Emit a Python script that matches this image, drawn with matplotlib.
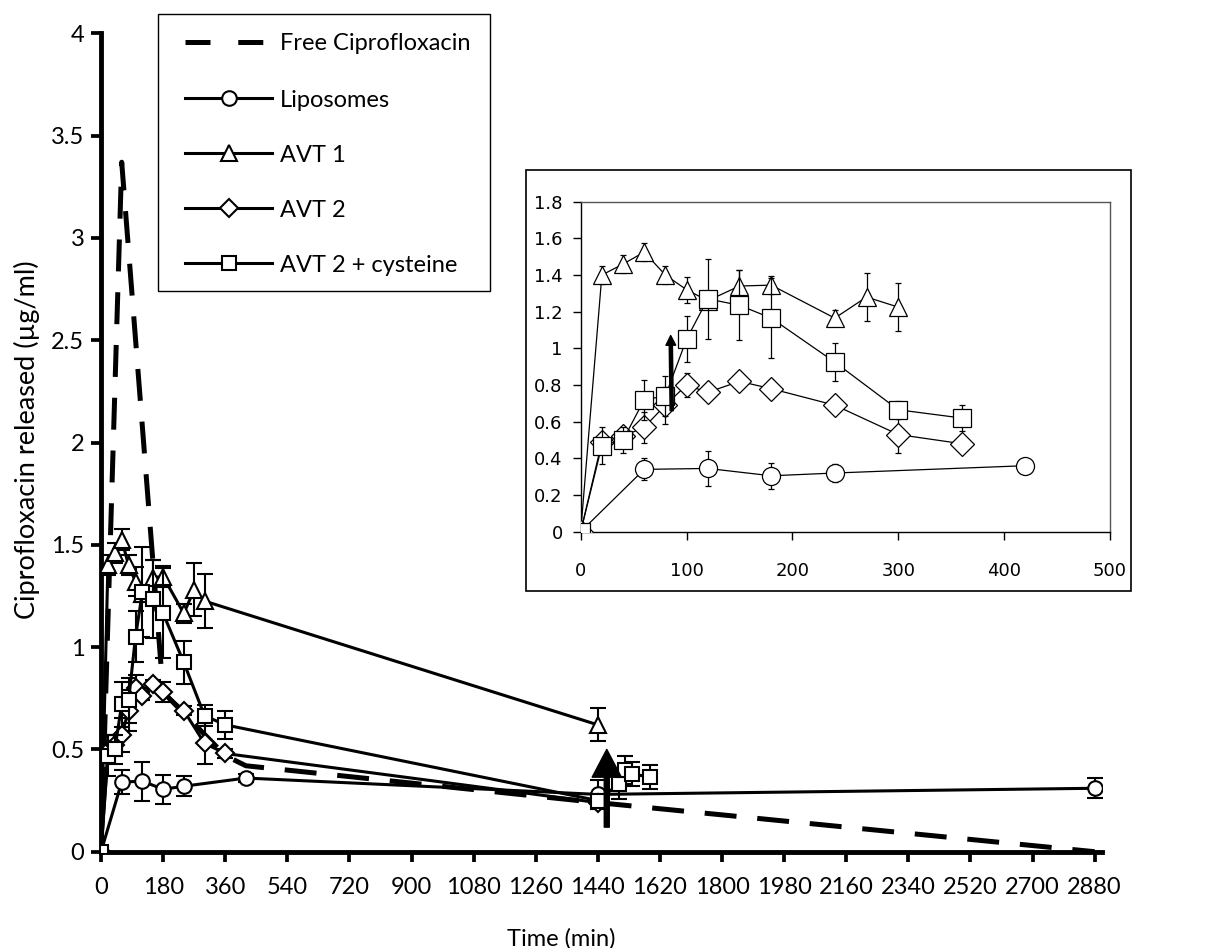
import matplotlib
matplotlib.use("Agg")
import matplotlib.pyplot as plt
from matplotlib.patches import Rectangle
from matplotlib.lines import Line2D

W, H = 1211, 948
plt.rcParams['lines.scale_dashes'] = False
MAIN_FONT = ['Lato', 'DejaVu Sans']
INSET_FONT = ['DejaVu Sans']

# ---------------- data ----------------
free_t = [0, 60, 180, 360, 420, 1440, 2880]
free_c = [0, 3.37, 0.78, 0.47, 0.42, 0.24, 0.0]

lipo_t = [0, 60, 120, 180, 240, 420, 1440, 2880]
lipo_c = [0, 0.34, 0.345, 0.305, 0.32, 0.36, 0.28, 0.31]
lipo_e = [0, 0.06, 0.095, 0.07, 0.05, 0.02, 0.07, 0.048]

avt1_t = [0, 20, 40, 60, 80, 100, 120, 150, 180, 240, 270, 300, 1440]
avt1_c = [0, 1.40, 1.46, 1.525, 1.40, 1.32, 1.26, 1.34, 1.345, 1.165, 1.28, 1.225, 0.62]
avt1_e = [0, 0.05, 0.05, 0.05, 0.05, 0.07, 0.04, 0.086, 0.05, 0.045, 0.13, 0.13, 0.08]

avt2_t = [0, 20, 40, 60, 80, 100, 120, 150, 180, 240, 300, 360, 1440]
avt2_c = [0, 0.49, 0.52, 0.57, 0.69, 0.80, 0.76, 0.82, 0.78, 0.69, 0.53, 0.48, 0.24]
avt2_e = [0, 0.05, 0.05, 0.085, 0.10, 0.065, 0.02, 0.02, 0.05, 0.02, 0.10, 0.02, 0.03]

cys_t = [0, 20, 40, 60, 80, 100, 120, 150, 180, 240, 300, 360, 1440, 1500, 1520, 1540, 1590]
cys_c = [0, 0.47, 0.50, 0.72, 0.74, 1.05, 1.27, 1.235, 1.165, 0.925, 0.665, 0.62,
         0.25, 0.33, 0.40, 0.38, 0.365]
cys_e = [0, 0.10, 0.07, 0.11, 0.11, 0.125, 0.22, 0.19, 0.22, 0.105, 0.05, 0.07,
         0.03, 0.07, 0.07, 0.06, 0.06]

main_xticks = list(range(0, 2881, 180))
main_yticks = [0, 0.5, 1, 1.5, 2, 2.5, 3, 3.5, 4]
inset_xticks = [0, 100, 200, 300, 400, 500]
inset_yticks = [0, 0.2, 0.4, 0.6, 0.8, 1, 1.2, 1.4, 1.6, 1.8]

labels = ['Free Ciprofloxacin', 'Liposomes', 'AVT 1', 'AVT 2', 'AVT 2 + cysteine']
markers = [None, 'o', '^', 'D', 's']
msize_main = [0, 10.5, 11, 9.5, 10]
msize_inset = [0, 13, 13, 12, 12.5]


def fmt(v):
    return ('%.1f' % v).rstrip('0').rstrip('.')


def fx(px):
    return px / W


def fy(py):
    return 1 - py / H


fig = plt.figure(figsize=(W / 100, H / 100), dpi=100)

# ---------------- main axes ----------------
x0, y0 = 101, 851.7
pxmin = 0.345
XMAX = 2900
ax = fig.add_axes([fx(x0), fy(y0), XMAX * pxmin / W, (y0 - 33.3) / H])
ax.set_xlim(0, XMAX)
ax.set_ylim(0, 4)

ax.plot(free_t, free_c, color='black', lw=3.6, dashes=(23, 15), zorder=2,
        dash_capstyle='butt')

series = [(lipo_t, lipo_c, lipo_e), (avt1_t, avt1_c, avt1_e),
          (avt2_t, avt2_c, avt2_e), (cys_t, cys_c, cys_e)]
for i, (t, c, e) in enumerate(series):
    ax.errorbar(t, c, yerr=e, color='black', lw=2.2, marker=markers[i + 1],
                ms=msize_main[i + 1], mfc='white', mec='black', mew=1.5,
                elinewidth=1.5, capsize=5.5, capthick=1.5, zorder=3 + i)

ax.annotate('', xy=(1466, 0.50), xytext=(1466, 0.12),
            arrowprops=dict(width=3.6, headwidth=21, headlength=20,
                            color='black', shrink=0),
            zorder=10)

for s in ['top', 'right']:
    ax.spines[s].set_visible(False)
for s in ['left', 'bottom']:
    ax.spines[s].set_linewidth(3.5)
ax.set_xticks(main_xticks)
ax.set_xticklabels([str(v) for v in main_xticks])
ax.set_yticks(main_yticks)
ax.set_yticklabels([fmt(v) for v in main_yticks])
ax.tick_params(axis='both', direction='out', length=7, width=2.7,
               labelsize=17)
ax.tick_params(axis='x', pad=11)
ax.tick_params(axis='y', pad=5)
for lab in ax.get_xticklabels() + ax.get_yticklabels():
    lab.set_family(MAIN_FONT)

fig.text(fx(507), fy(946), 'Time (min)', ha='left', va='baseline',
         fontsize=17, family=MAIN_FONT)
fig.text(fx(27), fy(440), 'Ciprofloxacin released (µg/ml)', ha='center',
         va='center', rotation=90, fontsize=19.5, family=MAIN_FONT)

# ---------------- legend (drawn by hand) ----------------
leg_box = Rectangle((fx(158), fy(291)), (490 - 158) / W, (291 - 14) / H,
                    transform=fig.transFigure, facecolor='white',
                    edgecolor='black', lw=1.0, zorder=20)
fig.add_artist(leg_box)
rows = [41.7, 98.3, 153.3, 208.3, 263.3]
for i, (lab, yr) in enumerate(zip(labels, rows)):
    if i == 0:
        fig.add_artist(Line2D([fx(185), fx(272)], [fy(yr), fy(yr)],
                              transform=fig.transFigure, color='black',
                              lw=3.6, dashes=(18, 20), zorder=21))
    else:
        fig.add_artist(Line2D([fx(185), fx(272)], [fy(yr), fy(yr)],
                              transform=fig.transFigure, color='black',
                              lw=2.2, zorder=21))
        fig.add_artist(Line2D([fx(228.5)], [fy(yr)], transform=fig.transFigure,
                              color='black', lw=0, marker=markers[i],
                              ms=msize_main[i], mfc='white', mec='black',
                              mew=1.5, zorder=22))
    fig.text(fx(280), fy(yr + 8.5), lab, ha='left', va='baseline',
             fontsize=17, family=MAIN_FONT, zorder=22)

# ---------------- inset ----------------
frame = Rectangle((fx(526), fy(591)), (1131 - 526) / W, (591 - 170) / H,
                  transform=fig.transFigure, facecolor='white',
                  edgecolor='black', lw=1.2, zorder=5)
fig.add_artist(frame)

ix0, iy0 = 580.7, 531.7
axi = fig.add_axes([fx(ix0), fy(iy0), (1110 - ix0) / W, (iy0 - 201.7) / H])
axi.set_zorder(6)
axi.set_xlim(0, 500)
axi.set_ylim(0, 1.8)
for i, (t, c, e) in enumerate(series):
    n = len([v for v in t if v <= 500])
    axi.errorbar(t[:n], c[:n], yerr=e[:n], color='black', lw=0.9,
                 marker=markers[i + 1], ms=msize_inset[i + 1], mfc='white',
                 mec='black', mew=0.9, elinewidth=0.9, capsize=2.5,
                 capthick=0.9, zorder=3 + i)
axi.annotate('', xy=(85, 1.07), xytext=(86, 0.66),
             arrowprops=dict(width=2.3, headwidth=7, headlength=7,
                             color='black', shrink=0), zorder=10)
axi.spines['left'].set_color('black')
axi.spines['bottom'].set_color('black')
axi.spines['top'].set_color('#555555')
axi.spines['right'].set_color('#555555')
for s in axi.spines.values():
    s.set_linewidth(1.0)
axi.set_xticks(inset_xticks)
axi.set_xticklabels([str(v) for v in inset_xticks])
axi.set_yticks(inset_yticks)
axi.set_yticklabels([fmt(v) for v in inset_yticks])
axi.tick_params(axis='both', direction='out', length=6, width=1,
                labelsize=13)
axi.tick_params(axis='x', pad=16)
axi.tick_params(axis='y', pad=7)
for lab in axi.get_xticklabels() + axi.get_yticklabels():
    lab.set_family(INSET_FONT)

fig.savefig('out.png', dpi=100)
